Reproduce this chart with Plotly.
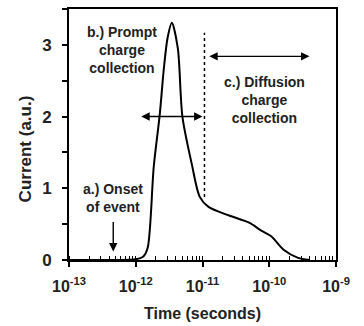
import math
import plotly.graph_objects as go

# Current pulse vs time (seconds)
time_s = [1.0e-13, 5.0e-13, 1.0e-12, 1.3e-12, 1.51e-12, 1.86e-12, 2.29e-12, 2.63e-12,
          3.0e-12, 3.47e-12, 4.27e-12, 5.0e-12, 6.9e-12, 9.1e-12, 1.23e-11, 2.5e-11,
          5.0e-11, 7.6e-11, 1.07e-10, 1.66e-10, 2.7e-10, 4.0e-10]
current = [0.0, 0.0, 0.01, 0.05, 0.17, 1.30, 2.03, 2.66,
           3.10, 3.31, 2.95, 2.0, 1.34, 0.88, 0.74, 0.62,
           0.52, 0.41, 0.33, 0.14, 0.03, 0.0]

# dotted boundary between prompt and diffusion collection
boundary_t = [1.07e-11, 1.07e-11]
boundary_y = [0.88, 3.17]

x_tickvals = [1e-13, 1e-12, 1e-11, 1e-10, 1e-9]
x_ticktext = ["10<sup>-13</sup>", "10<sup>-12</sup>", "10<sup>-11</sup>",
              "10<sup>-10</sup>", "10<sup>-9</sup>"]
y_tickvals = [0, 1, 2, 3]

# arrows: (t_start, y_start, t_end, y_end)
prompt_arrow = (1.15e-12, 2.0, 1.0e-11, 2.0)
diffusion_arrow = (1.2e-11, 2.84, 4.0e-10, 2.84)
onset_arrow = (4.6e-13, 0.55, 4.6e-13, 0.12)

FONT = "Liberation Sans, Arial, sans-serif"
TXT = "#222222"

fig = go.Figure()
fig.add_trace(go.Scatter(x=time_s, y=current, mode="lines",
                         line=dict(color="black", width=2, shape="spline", smoothing=0.8),
                         hoverinfo="skip", showlegend=False))
fig.add_trace(go.Scatter(x=boundary_t, y=boundary_y, mode="lines",
                         line=dict(color="black", width=1.5, dash="dot"),
                         hoverinfo="skip", showlegend=False))

def arrow(a, both):
    t0, y0, t1, y1 = a
    fig.add_annotation(x=math.log10(t1), y=y1, ax=math.log10(t0), ay=y0,
                       xref="x", yref="y", axref="x", ayref="y",
                       showarrow=True, arrowhead=2, arrowsize=1.2, arrowwidth=1.4,
                       startarrowhead=2, startarrowsize=1.2,
                       arrowside="end+start" if both else "end",
                       arrowcolor="black", text="")

arrow(prompt_arrow, True)
arrow(diffusion_arrow, True)
arrow(onset_arrow, False)

ann_font = dict(family=FONT, size=14, color=TXT, weight="bold")
fig.add_annotation(x=math.log10(6.3e-13), y=2.93, xref="x", yref="y",
                   text="b.) Prompt<br>charge<br>collection", showarrow=False,
                   font=ann_font, align="center")
fig.add_annotation(x=math.log10(8.5e-11), y=2.23, xref="x", yref="y",
                   text="c.) Diffusion<br>charge<br>collection", showarrow=False,
                   font=ann_font, align="center")
fig.add_annotation(x=math.log10(4.6e-13), y=0.87, xref="x", yref="y",
                   text="a.) Onset<br>of event", showarrow=False,
                   font=ann_font, align="center")

fig.update_layout(
    width=364, height=326,
    margin=dict(l=69, r=28, t=7, b=66),
    paper_bgcolor="white", plot_bgcolor="white",
    font=dict(family=FONT, color=TXT),
)
# axis titles as annotations, placed in paper coordinates
plot_h = 326 - 7 - 66
plot_w = 364 - 69 - 28
fig.add_annotation(x=0.5, y=(326 - 66 - 314) / plot_h, xref="paper", yref="paper",
                   yanchor="middle", text="Time (seconds)", showarrow=False,
                   font=dict(family=FONT, size=16, color=TXT, weight="bold"))
fig.add_annotation(x=(14 - 69) / plot_w, y=(326 - 66 - 148) / plot_h,
                   xref="paper", yref="paper",
                   text="Current (a.u.)", showarrow=False, textangle=-90,
                   font=dict(family=FONT, size=17, color=TXT, weight="bold"))

fig.update_xaxes(type="log", range=[-13, -9],
                 tickvals=x_tickvals, ticktext=x_ticktext,
                 tickfont=dict(size=16, family=FONT, color=TXT, weight="bold"),
                 ticklabelstandoff=6,
                 ticks="outside", ticklen=5, tickwidth=1.5, tickcolor="black",
                 minor=dict(ticks="inside", ticklen=4, tickcolor="black", tickwidth=1,
                            dtick="D1"),
                 showline=True, linecolor="black", linewidth=2, mirror=True,
                 showgrid=False, zeroline=False)
fig.update_yaxes(range=[0, 3.5], tickvals=y_tickvals,
                 tickfont=dict(size=17, family=FONT, color=TXT, weight="bold"),
                 ticklabelstandoff=7,
                 ticks="outside", ticklen=5, tickwidth=1.5, tickcolor="black",
                 minor=dict(ticks="outside", ticklen=5, tickcolor="black", tickwidth=1.5,
                            dtick=0.5),
                 showline=True, linecolor="black", linewidth=2, mirror=True,
                 showgrid=False, zeroline=False)

fig.write_html("out.html")
